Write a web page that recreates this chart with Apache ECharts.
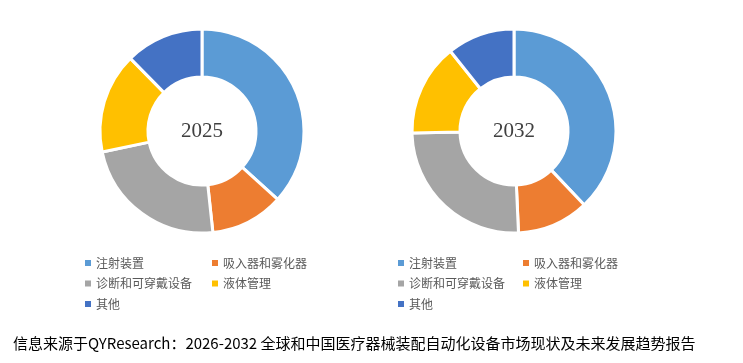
<!DOCTYPE html>
<html>
<head>
<meta charset="utf-8">
<script src="https://cdn.jsdelivr.net/npm/echarts@6/dist/echarts.min.js"></script>
<style>
html,body{margin:0;padding:0;background:#fff;}
#c{width:743px;height:363px;}
</style>
</head>
<body>
<div id="c"></div>
<script>
const categories = ['注射装置','吸入器和雾化器','诊断和可穿戴设备','液体管理','其他'];
const values2025 = [36.7, 11.6, 23.4, 15.9, 12.4];
const values2032 = [37.9, 11.4, 25.4, 14.6, 10.7];
const years = ['2025','2032'];
const colors = ['#5B9BD5','#ED7D31','#A5A5A5','#FFC000','#4472C4'];
const footer = '信息来源于QYResearch：2026-2032 全球和中国医疗器械装配自动化设备市场现状及未来发展趋势报告';

const chart = echarts.init(document.getElementById('c'), null, {renderer:'canvas'});

function pie(vals, cx, year){
  return {
    type:'pie',
    center:[cx,131],
    radius:[54,102],
    startAngle:90,
    clockwise:true,
    avoidLabelOverlap:false,
    label:{show:true, position:'center', formatter:year,
      fontFamily:'Liberation Serif', fontSize:21, color:'#404040', padding:[0,0,8,0]},
    labelLine:{show:false},
    emphasis:{disabled:true},
    itemStyle:{borderColor:'#fff', borderWidth:3},
    data: categories.map((n,i)=>({name:n, value:vals[i], itemStyle:{color:colors[i]}}))
  };
}
function legendCol(names, left){
  return {
    orient:'vertical', left:left, top:251, itemGap:6.5,
    icon:'rect', itemWidth:6, itemHeight:6,
    data:names, selectedMode:false,
    textStyle:{fontFamily:'Noto Sans CJK SC', fontSize:12, color:'#595959', lineHeight:14, padding:[0,0,0,0]},
    itemStyle:{borderWidth:0}
  };
}
const col1 = [categories[0],categories[2],categories[4]];
const col2 = [categories[1],categories[3]];

chart.setOption({
  animation:false,
  color:colors,
  legend:[
    legendCol(col1, 80),
    legendCol(col2, 207),
    legendCol(col1, 393),
    legendCol(col2, 518)
  ],
  graphic:[{
    type:'text', left:13, top:336,
    style:{text:footer, fontFamily:'Noto Sans CJK SC', fontSize:15, fill:'#000'}
  }],
  series:[pie(values2025, 202, years[0]), pie(values2032, 514, years[1])]
});
</script>
</body>
</html>
